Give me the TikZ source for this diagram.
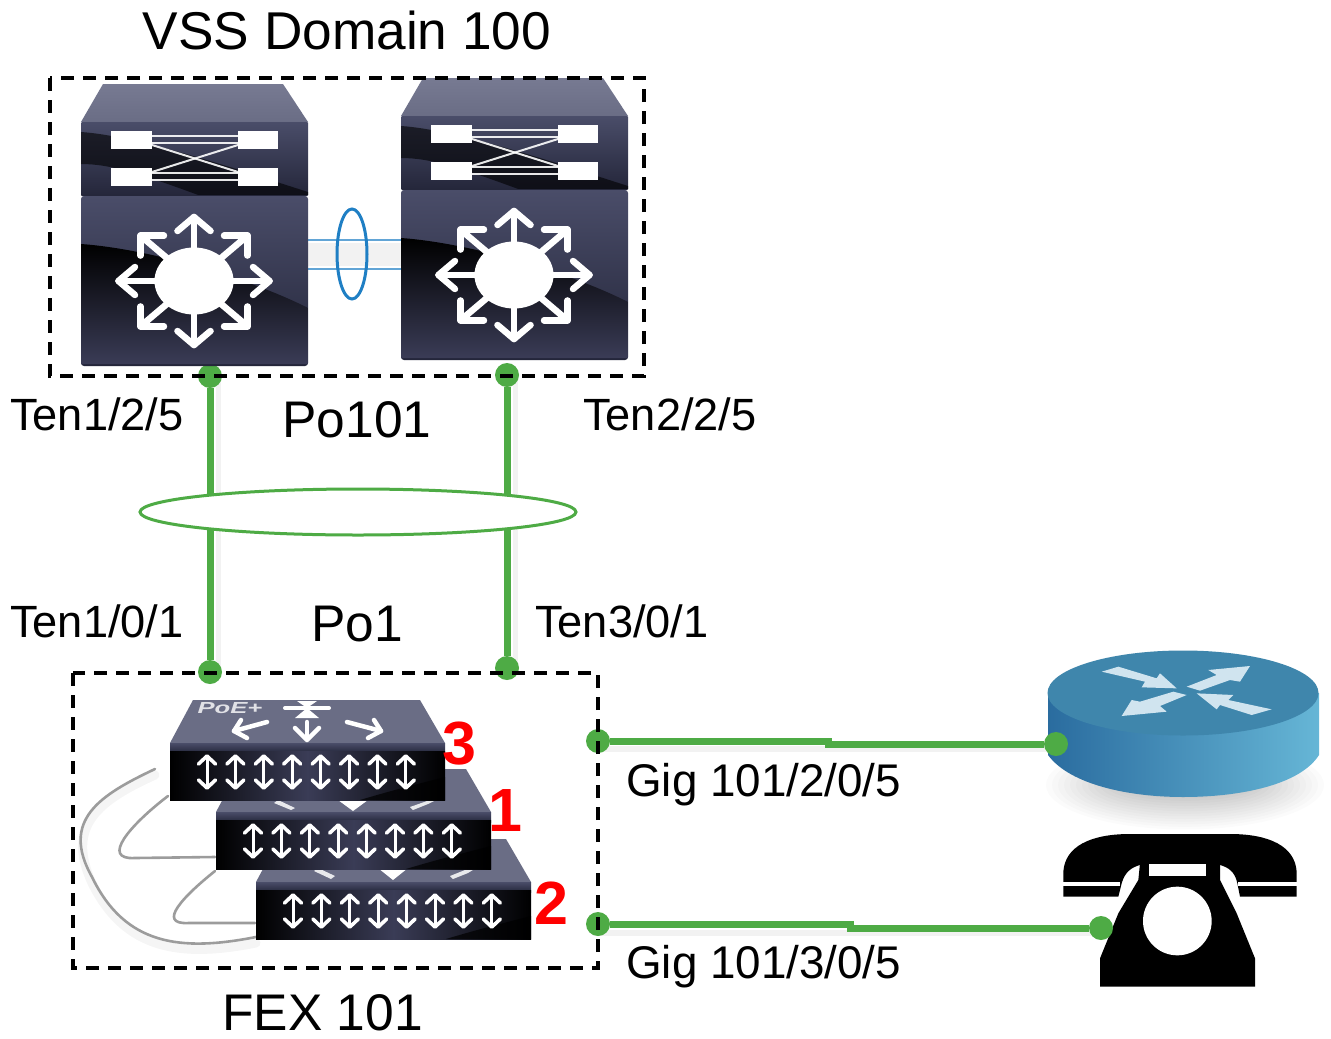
\documentclass[tikz,border=0pt]{standalone}
\usepackage{fontspec}
\setmainfont{Liberation Sans}
\usetikzlibrary{shapes.geometric}
\definecolor{lk}{HTML}{4EAB45}
\definecolor{bl}{HTML}{1F7FC4}
\definecolor{navyA}{HTML}{4A4D69}
\definecolor{navyB}{HTML}{24263A}
\definecolor{navyC}{HTML}{3A3C56}
\definecolor{faceA}{HTML}{777A92}
\definecolor{faceB}{HTML}{9FA2B6}
\definecolor{faceC}{HTML}{6A6D85}
\definecolor{cab}{HTML}{9C9C9C}
\definecolor{rtL}{HTML}{2A6C9F}
\definecolor{rtR}{HTML}{66B6D6}
\definecolor{rtT}{HTML}{3F86AC}
\definecolor{rtA}{HTML}{D0E4EF}
\tikzset{
  greenlink/.style={draw=lk,line width=7pt},
  greendot/.style={circle,fill=lk,inner sep=0pt,minimum size=24pt},
  domainbox/.style={draw=black,line width=3.2pt,dash pattern=on 13pt off 9pt},
  lbl/.style={inner sep=0pt,font=\fontsize{45.2}{50}\selectfont,anchor=west},
  lblbig/.style={inner sep=0pt,font=\fontsize{51.5}{58}\selectfont},
  gig/.style={inner sep=0pt,font=\fontsize{45.8}{52}\selectfont,anchor=west},
  num/.style={inner sep=0pt,text=red,font=\fontsize{61}{66}\selectfont\bfseries},
  wh/.style={draw=white,line width=6.5pt,line cap=round,line join=round},
  thinwh/.style={draw=white,opacity=.9,line width=2pt,line cap=round,line join=round},
  cable/.style={draw=cab,line width=2.6pt,line cap=round},
  cableshadow/.style={draw=black,opacity=.04,line width=9pt,line cap=round},
}
% big switch: origin at top-left of the face trapezoid box (81,84)
\newcommand{\vssswitch}[2]{%
\begin{scope}[shift={(#1,#2)}]
  \shade[top color=faceA,middle color=faceB,bottom color=faceC] (22,0) -- (202,0) -- (227,38) -- (0,38) -- cycle;
  \shade[top color=navyA,bottom color=navyB,rounded corners=1pt] (0,38) rectangle (227,112);
  \begin{scope}
    \clip (0,44) rectangle (227,110);
    \fill[black,opacity=.6] (0,48) .. controls (60,52) and (170,90) .. (227,108) -- (227,112) -- (120,112) .. controls (60,90) and (30,80) .. (0,80) -- cycle;
  \end{scope}
  \shade[top color=navyA,bottom color=navyB,rounded corners=3pt] (0,112) rectangle (227,282);
  \begin{scope}
    \clip (0,118) rectangle (227,280);
    \shade[top color=black,bottom color=navyC] (0,160) .. controls (70,165) and (170,195) .. (227,224) -- (227,280) -- (0,280) -- cycle;
  \end{scope}
  \foreach \yy in {47,84}{
    \fill[white] (30,\yy) rectangle (71,\yy+18);
    \fill[white] (157,\yy) rectangle (197,\yy+18);
    \draw[thinwh] (71,\yy+5) -- (157,\yy+5);
    \draw[thinwh] (71,\yy+12) -- (157,\yy+12);
  }
  \draw[thinwh] (71,61) -- (157,88);
  \draw[thinwh] (71,88) -- (157,61);
  \begin{scope}[shift={(113,197)},xscale=1.18]
    \fill[white] (0,0) circle (33.5);
    \foreach \a in {0,45,...,315}{
      \begin{scope}[rotate=\a]
        \draw[wh] (30,0) -- (64,0);
        \draw[wh] (50,-14) -- (64,0) -- (50,14);
      \end{scope}
    }
  \end{scope}
\end{scope}}
% stack switch: origin at left end of the face base
\newcommand{\fexswitch}[2]{%
\begin{scope}[shift={(#1,#2)}]
  \shade[top color=faceC,middle color=faceB,bottom color=faceC] (23,-43) -- (250,-43) -- (275,0) -- (0,0) -- cycle;
  \shade[top color=navyA,bottom color=navyB] (0,0) rectangle (275,10);
  \shade[left color=black,right color=black,middle color=navyC] (0,8) rectangle (275,57);
  \fill[black,opacity=.7] (190,57) .. controls (230,45) and (260,38) .. (275,34) -- (275,57) -- cycle;
  \foreach \i in {0,...,7}{
    \begin{scope}[shift={(37+\i*28.4,29)}]
      \draw[draw=white,line width=3pt,line cap=round,line join=round] (0,-15) -- (0,15);
      \draw[draw=white,line width=3.6pt,line cap=round,line join=round] (-8.5,-8) -- (0,-16) -- (8.5,-8);
      \draw[draw=white,line width=3.6pt,line cap=round,line join=round] (-8.5,8) -- (0,16) -- (8.5,8);
    \end{scope}
  }
\end{scope}}
\begin{document}
\begin{tikzpicture}[x=1pt,y=-1pt]
\useasboundingbox (0,0) rectangle (1331,1039);
\fill[white] (0,0) rectangle (1331,1039);

% uplinks
\fill[black,opacity=.05] (216,376) rectangle (221,672);
\fill[black,opacity=.05] (513,375) rectangle (518,668);
\node[greendot] (vssA) at (210,376) {};
\node[greendot] (vssB) at (507,375) {};
\node[greendot] (fexA) at (210,672) {};
\node[greendot] (fexB) at (507,668) {};
\draw[greenlink] (vssA) -- (fexA);
\draw[greenlink] (vssB) -- (fexB);
\node[draw=lk,line width=3pt,fill=white,ellipse,minimum width=436pt,minimum height=46pt,inner sep=0pt] (po) at (358,512) {};

% shadows of the access links
\fill[black,opacity=.05] (598,746) rectangle (1056,752);
\fill[black,opacity=.05] (598,930) rectangle (1101,936);

% VSS link
\fill[black,opacity=.05] (308,243) rectangle (401,266);
\coordinate (isA1) at (308,240); \coordinate (isB1) at (401,240);
\coordinate (isA2) at (308,269); \coordinate (isB2) at (401,269);
\draw[draw=bl!70,line width=2pt] (isA1) -- (isB1);
\draw[draw=bl!70,line width=2pt] (isA2) -- (isB2);
\vssswitch{81}{84}
\vssswitch{401}{78}
\node[draw=bl,line width=3pt,ellipse,minimum width=30pt,minimum height=90pt,inner sep=0pt] (vsl) at (352,254) {};

% FEX cables
\draw[cableshadow] (155,775) .. controls (100,800) and (65,825) .. (92,883) .. controls (125,950) and (180,958) .. (256,943);
\draw[cable] (155,769) .. controls (100,795) and (60,820) .. (92,877) .. controls (125,945) and (180,952) .. (256,937);
\draw[cable] (168,796) .. controls (130,825) and (100,860) .. (135,858) -- (215,857);
\draw[cable] (215,871) .. controls (185,895) and (155,925) .. (189,923) -- (255,923);

% FEX stack
\fexswitch{256}{882}
\fill[white,opacity=.85] (318,868) -- (335,876) -- (331,879) -- (314,871) -- cycle;
\fill[white] (378,868) -- (408,868) -- (393,880) -- cycle;
\fill[white,opacity=.85] (453,879) -- (468,873) -- (476,868) -- (470,868) -- (450,876) -- cycle;
\fexswitch{216}{812}
\fill[white,opacity=.85] (278,800) -- (295,808) -- (291,810) -- (274,803) -- cycle;
\fill[white] (338,800) -- (368,800) -- (353,811) -- cycle;
\fill[white,opacity=.85] (413,810) -- (428,804) -- (436,800) -- (430,800) -- (410,807) -- cycle;
\fexswitch{170}{743}
\node[inner sep=0pt,text=white,opacity=.8,xscale=1.6,font=\fontsize{16}{17}\selectfont\bfseries\itshape] (poe) at (230,708) {PoE+};
\draw[draw=white,line width=4pt,line cap=round] (285,708) -- (329,708);
\fill[white] (297,701) -- (317,701) -- (307,708) -- cycle;
\fill[white] (295,718) -- (319,718) -- (307,708) -- cycle;
\draw[wh,line width=4.5pt] (267,722) -- (234,731);
\draw[wh,line width=4.5pt] (241,720) -- (234,731) -- (247,738);
\draw[wh,line width=4.5pt] (307,722) -- (307,738);
\draw[wh,line width=4.5pt] (295,728) -- (307,740) -- (319,728);
\draw[wh,line width=4.5pt] (347,722) -- (381,731);
\draw[wh,line width=4.5pt] (374,720) -- (381,731) -- (368,738);

% router
\foreach \k in {1,...,14}{
  \fill[black,opacity=.016] (1185,785) ellipse ({55+\k*6} and {8+\k*2.6});
}
\shade[left color=rtL,right color=rtR] (1048,693) -- (1048,755) .. controls (1070,785) and (1130,797) .. (1183,797) .. controls (1240,797) and (1300,785) .. (1319,755) -- (1319,693) -- cycle;
\fill[rtT] (1183,693) ellipse (135.5 and 42.5);

% links to the right
\node[greendot] (swP) at (598,741) {};
\node[greendot] (rtr) at (1056,744) {};
\node[greendot] (swQ) at (598,924) {};
\coordinate (j1) at (828,741); \coordinate (j2) at (828,744);
\coordinate (j3) at (850,924); \coordinate (j4) at (850,928);
\draw[greenlink] (swP) -- (j1) -- (j2) -- (rtr);

% router arrows
\begin{scope}[shift={(1020,630)},scale=1/3]
  \fill[rtA] (245,125) -- (295,110) -- (410,145) -- (420,130) -- (470,175) -- (365,172) -- (375,155) -- cycle;
  \fill[rtA] (690,108) -- (660,155) -- (630,150) -- (540,182) -- (500,170) -- (590,135) -- (565,120) -- cycle;
  \fill[rtA] (305,258) -- (335,210) -- (360,215) -- (460,185) -- (500,195) -- (420,228) -- (440,245) -- cycle;
  \fill[rtA] (755,238) -- (695,255) -- (600,225) -- (590,238) -- (530,190) -- (640,195) -- (625,210) -- cycle;
\end{scope}

% phone
\begin{scope}[shift={(1020,630)},scale=1/3]
  \fill[black] (130,800) -- (130,725) .. controls (135,650) and (210,612) .. (330,612) -- (630,612) .. controls (750,612) and (825,650) .. (830,725) -- (830,800) -- (660,800) -- (652,760) .. controls (645,725) and (625,712) .. (600,705) -- (360,705) .. controls (335,712) and (315,725) .. (305,760) -- (295,800) -- cycle;
  \fill[black] (360,700) -- (600,700) -- (600,750) -- (650,850) -- (705,985) -- (705,1070) -- (240,1070) -- (240,985) -- (295,850) -- (355,750) -- cycle;
  \fill[white] (388,703) -- (558,703) -- (558,738) -- (388,738) -- cycle;
  \fill[white] (472,873) circle (103);
  \draw[white,line width=3.5pt] (130,762) -- (300,762);
  \draw[white,line width=3.5pt] (655,762) -- (830,762);
\end{scope}
\node[greendot] (ph) at (1101,928) {};
\draw[greenlink] (swQ) -- (j3) -- (j4) -- (ph);

% domain boxes
\draw[domainbox] (50,78) rectangle (644,376);
\draw[domainbox] (73,673) rectangle (598,968);

% labels
\node[inner sep=0pt,font=\fontsize{53.2}{60}\selectfont] (vss) at (347,30) {VSS Domain 100};
\node[lbl] (t1) at (10,414) {Ten1/2/5};
\node[lblbig] (po101) at (357,420) {Po101};
\node[lbl] (t2) at (583,414) {Ten2/2/5};
\node[lbl] (t3) at (10,621) {Ten1/0/1};
\node[lblbig] (po1) at (357,624) {Po1};
\node[lbl] (t4) at (535,621) {Ten3/0/1};
\node[gig] (g1) at (626,785) {Gig 101/2/0/5};
\node[gig] (g2) at (626,967) {Gig 101/3/0/5};
\node[lblbig] (fex) at (322.5,1013) {FEX 101};
\node[num] (n3) at (459,744) {3};
\node[num] (n1) at (505,811) {1};
\node[num] (n2) at (551,903) {2};
\end{tikzpicture}
\end{document}
